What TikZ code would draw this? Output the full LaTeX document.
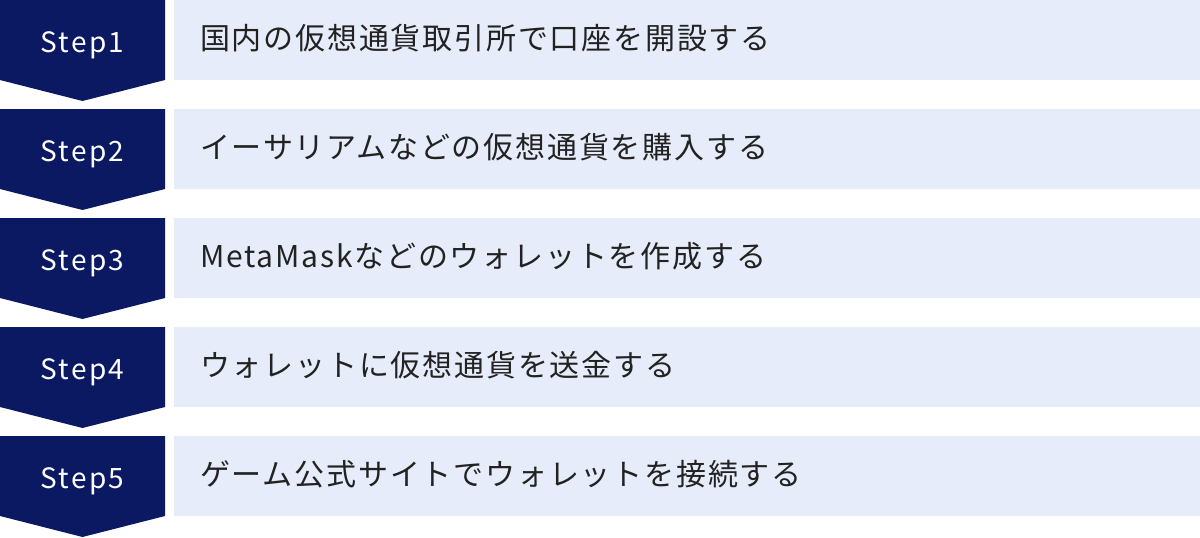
\documentclass[tikz,border=0pt]{standalone}
\usepackage{fontspec}
\setmainfont{Noto Sans CJK JP}
\newfontfamily\jpfont[LetterSpace=6]{Noto Sans CJK JP}
\newfontfamily\stepfont[LetterSpace=8]{Noto Sans CJK JP}
\definecolor{navy}{HTML}{0B1862}
\definecolor{lav}{HTML}{E6ECF9}
\definecolor{ink}{HTML}{222222}
\tikzset{
  x=1pt, y=-1pt,
  stepfill/.style={fill=navy, draw=none},
  steplabel/.style={text=white, font=\stepfont\fontsize{28}{30}\selectfont, inner sep=0pt, anchor=base},
  barbox/.style={fill=lav, draw=none, inner sep=0pt, minimum width=1026pt, minimum height=80pt, anchor=north west},
  bartext/.style={text=ink, font=\jpfont\fontsize{30}{32}\selectfont, inner sep=0pt, anchor=base west},
}
\begin{document}
\begin{tikzpicture}
\useasboundingbox (0,0) rectangle (1200,538);
\foreach \i/\t in {1/国内の仮想通貨取引所で口座を開設する,2/イーサリアムなどの仮想通貨を購入する,3/MetaMaskなどのウォレットを作成する,4/ウォレットに仮想通貨を送金する,5/ゲーム公式サイトでウォレットを接続する}{
  \pgfmathsetmacro{\Y}{(\i-1)*109}
  \fill[stepfill] (0,\Y) -- (165,\Y) -- (165,\Y+80) -- (82.5,\Y+101) -- (0,\Y+80) -- cycle;
  \node[steplabel] (s\i) at (82.5,\Y+52) {Step\i};
  \node[barbox] (b\i) at (174,\Y) {};
  \node[bartext] (t\i) at (200,\Y+49) {\t};
}
\end{tikzpicture}
\end{document}
